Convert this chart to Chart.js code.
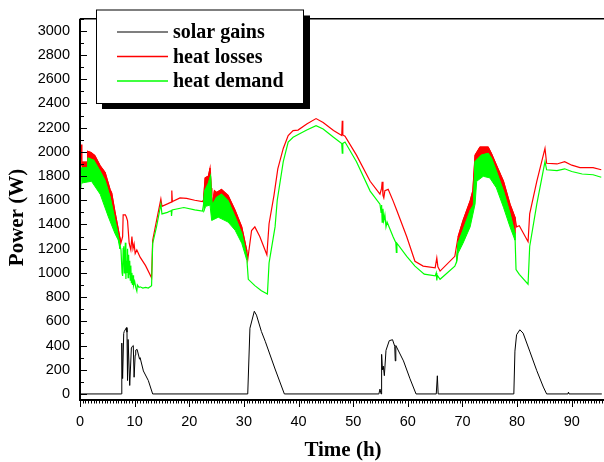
<!DOCTYPE html>
<html><head><meta charset="utf-8">
<script src="https://cdn.jsdelivr.net/npm/chart.js@4.4.1/dist/chart.umd.min.js"></script>
<style>html,body{margin:0;padding:0;background:#fff;}#wrap{width:604px;height:462px;position:relative;}</style>
</head><body><div id="wrap"><canvas id="c" width="604" height="462"></canvas></div>
<script>
// ---------- data ----------
const seriesNames = ['solar gains', 'heat losses', 'heat demand'];
const xTickValues = [0, 10, 20, 30, 40, 50, 60, 70, 80, 90];
const yTickValues = [0, 200, 400, 600, 800, 1000, 1200, 1400, 1600, 1800, 2000, 2200, 2400, 2600, 2800, 3000];
const xMinorStep = 0.5;
const yMinorStep = 100;
const xTitle = 'Time (h)';
const yTitle = 'Power (W)';

// [time h, power W]
const solarGains = [
  [0,0],[7.6,0],[7.65,420],[7.8,127],[8.0,500],[8.1,516],[8.5,548],[8.6,510],[8.7,111],[8.8,450],[9.1,70],[9.4,380],[9.6,394],
  [9.75,400],[9.9,138],[10.1,320],[10.2,362],[10.45,368],[10.9,287],[11.0,300],[11.6,190],[12.5,111],[13.3,0],
  [30.7,0],[31.1,543],[31.9,683],[32.3,651],[33.2,516],[33.9,435],[35.7,206],[37.4,0],
  [54.7,0],[54.9,40],[55.1,0],[55.2,327],[55.35,200],[55.5,230],[55.7,151],[56.0,360],[56.6,440],[57.2,448],[57.6,394],[57.7,273],
  [57.8,400],[59.2,273],[60.4,125],[61.5,0],[65.2,0],[65.4,150],[65.55,0],
  [79.4,0],[79.6,354],[79.9,489],[80.5,530],[81.1,502],[82.3,354],[83.6,192],[84.8,57],[85.4,0],[89.3,0],[89.4,15],[89.5,0],[95.5,0]
];

const heatLosses = [
  [0,1960],[0.2,2060],[0.35,1880],[0.4,1915],[1.35,1915],[1.4,2005],[2.0,1995],[2.7,1970],[3.7,1885],[4.6,1830],[5.5,1690],[5.8,1660],
  [6.4,1505],[6.8,1410],[7.3,1290],[7.5,1250],[7.8,1300],[7.9,1480],[8.3,1480],[8.5,1460],[8.7,1430],[9.0,1245],[9.3,1190],[9.5,1300],
  [9.7,1200],[9.9,1240],[10.1,1160],[10.4,1190],[11.0,1130],[12.0,1060],[13.1,960],[13.3,1270],[14.0,1430],[14.8,1610],[15.0,1550],
  [16.0,1570],[16.7,1585],[16.8,1680],[16.9,1590],[18.3,1620],[19.5,1615],[21.0,1600],[22.4,1590],
  [22.6,1600],[22.9,1785],[23.5,1800],[23.8,1866],[24.0,1700],[24.1,1520],[24.6,1680],[25.0,1665],[25.9,1690],[27.1,1640],[28.4,1515],
  [29.6,1380],[30.5,1190],[30.7,1110],[31.4,1350],[32.0,1380],[32.9,1300],[34.2,1150],[34.6,1406],[35.5,1640],[36.2,1860],[37.2,2028],
  [38.1,2135],[39.0,2176],[39.9,2180],[41.5,2230],[43.2,2275],[44.5,2243],[46.4,2176],[47.9,2135],[48.0,2257],[48.1,2140],[48.5,2130],
  [50.6,1973],[53.1,1757],[54.9,1650],[55.2,1700],[55.3,1752],[55.45,1640],[55.6,1620],[55.8,1680],[56.4,1690],[57.3,1595],[58.0,1514],
  [59.8,1299],[61.3,1096],[62.8,1056],[65.0,1042],[65.3,1123],[65.5,1050],[65.9,1015],[68.6,1137],
  [69.2,1299],[70.1,1433],[71.4,1595],[71.9,1680],[72.3,1973],[73.2,2040],[74.7,2040],[75.3,1987],[76.2,1892],[77.5,1757],[78.7,1568],
  [79.6,1460],[79.9,1380],[80.4,1390],[82.0,1258],[82.3,1487],[83.6,1757],[85.1,2028],[85.4,1906],[87.3,1900],[88.7,1919],[90.0,1890],
  [91.5,1870],[93.9,1870],[95.4,1852]
];

const heatDemand = [
  [0,1790],[0.15,1700],[0.3,1866],[1.4,1870],[1.5,1948],[2.5,1930],[3.7,1838],[4.6,1760],[5.5,1625],[6.4,1433],[6.8,1352],[7.3,1230],
  [7.5,1190],[7.7,1000],[7.8,975],[7.9,1200],[8.0,1220],[8.1,1000],[8.2,1150],[8.3,1250],[8.4,950],[8.5,1100],[8.6,1000],[8.7,1200],
  [8.8,960],[8.9,1150],[9.0,990],[9.1,1100],[9.2,940],[9.3,1060],[9.4,920],[9.5,1000],[9.6,900],[9.7,980],[9.8,895],[10.0,930],
  [10.2,880],[10.4,850],[10.5,900],[10.8,880],[11.0,885],[11.5,875],[12.0,880],[12.5,875],[13.1,895],
  [13.3,1243],[14.0,1380],[14.8,1568],[15.0,1487],[16.0,1500],[16.7,1515],[16.75,1470],[16.85,1520],[19.0,1540],[21.0,1520],[22.4,1510],
  [22.6,1560],[22.8,1676],[23.5,1740],[23.9,1800],[24.0,1650],[24.2,1560],[25.0,1623],[25.9,1650],[27.1,1595],[28.4,1460],[29.6,1325],
  [30.5,1136],[30.8,947],[32.0,895],[33.2,853],[34.3,826],[34.6,1082],[34.8,1137],[35.7,1380],[36.1,1600],[37.2,1919],[38.1,2081],
  [39.0,2121],[40.2,2149],[41.5,2180],[43.2,2216],[44.5,2189],[46.4,2120],[47.9,2068],[48.0,1990],[48.1,2070],[48.5,2081],[50.6,1919],
  [53.1,1676],[54.9,1568],[55.1,1500],[55.2,1560],[55.3,1420],[55.45,1530],[55.6,1433],[55.8,1480],[56.0,1380],[56.2,1420],[57.3,1299],
  [57.8,1250],[57.9,1170],[58.0,1245],[59.8,1137],[61.3,1056],[63.0,990],[65.0,975],[65.2,1000],[65.3,937],[65.4,980],[65.9,947],
  [68.6,1056],[68.9,1090],
  [69.2,1245],[70.1,1352],[71.4,1514],[72.0,1560],[72.3,1919],[73.5,1973],[74.7,1987],[75.3,1946],[76.2,1838],[77.5,1676],[78.7,1487],
  [79.6,1325],[79.8,1028],[80.4,988],[82.0,907],[82.3,1218],[83.6,1568],[85.1,1919],[85.4,1852],[87.3,1845],[88.7,1860],[90.0,1838],
  [91.9,1817],[93.9,1811],[95.4,1790]
];

// lower edges of the dense oscillation bands of heat demand
const demandBand1Low = [[0.3,1740],[0.6,1745],[2.1,1757],[3.7,1650],[5.2,1462],[6.4,1325],[7.0,1271],[7.3,1200]];
const demandBand2Low = [[22.6,1500],[23.0,1550],[23.8,1560],[24.1,1433],[25.3,1460],[27.1,1420],[28.4,1352],[29.6,1245],[30.5,1109]];
const demandBand3Low = [[68.9,1080],[69.2,1164],[70.1,1245],[71.4,1380],[72.3,1568],[72.6,1757],[73.8,1798],[75.0,1785],[76.2,1703],[77.5,1542],[78.7,1380],[79.6,1271]];

// ---------- build ----------
const pts = arr => arr.map(p => ({x: p[0], y: p[1]}));
const within = (arr, a, b) => arr.filter(p => p[0] >= a && p[0] <= b);
function polygon(upper, lower) { return pts(upper).concat(pts(lower.slice().reverse())); }

const RED = '#ff0000', GREEN = '#00ff00', BLACK = '#000000';
const datasets = [];
datasets.push({label: seriesNames[0], data: pts(solarGains), borderColor: BLACK, borderWidth: 1, order: 0});
datasets.push({label: seriesNames[2], data: pts(heatDemand), borderColor: GREEN, borderWidth: 1.2, order: 1});
[demandBand1Low, demandBand2Low, demandBand3Low].forEach((low, i) => {
  const a = low[0][0], b = low[low.length - 1][0];
  const upper = within(heatDemand, a, b);
  datasets.push({label: 'demand band ' + (i + 1), data: polygon(upper, low), borderColor: GREEN, backgroundColor: GREEN,
    borderWidth: 1, fill: 'shape', order: 2});
  const lossUpper = within(heatLosses, a, b);
  datasets.push({label: 'loss band ' + (i + 1), data: polygon(lossUpper, upper), borderColor: RED, backgroundColor: RED,
    borderWidth: 1, fill: 'shape', order: 4});
});
datasets.push({label: seriesNames[1], data: pts(heatLosses), borderColor: RED, borderWidth: 1.2, order: 3});

const frame = {
  id: 'frame',
  afterDraw(chart) {
    const ctx = chart.ctx, a = chart.chartArea, xs = chart.scales.x, ys = chart.scales.y;
    ctx.save();
    ctx.strokeStyle = '#000';
    ctx.lineWidth = 1;
    ctx.beginPath();
    // y ticks (inward)
    for (let v = 0; v <= ys.max; v += yMinorStep) {
      const y = Math.round(ys.getPixelForValue(v)) + 0.5;
      const len = (v % 200 === 0) ? 7 : 4;
      ctx.moveTo(a.left, y); ctx.lineTo(a.left + len, y);
    }
    // x ticks (outward)
    for (let v = 0; v <= xs.max + 1e-9; v += xMinorStep) {
      const x = Math.round(xs.getPixelForValue(v)) + 0.5;
      const major = Math.abs(v / 10 - Math.round(v / 10)) < 1e-6;
      ctx.moveTo(x, a.bottom); ctx.lineTo(x, a.bottom + (major ? 7 : 3.5));
    }
    ctx.stroke();
    // axis lines
    ctx.lineWidth = 2;
    ctx.beginPath();
    ctx.moveTo(a.left, a.top); ctx.lineTo(a.left, a.bottom + 1);
    ctx.moveTo(a.left - 1, a.bottom); ctx.lineTo(a.right, a.bottom);
    ctx.stroke();
    ctx.lineWidth = 1.5;
    ctx.beginPath();
    ctx.moveTo(a.left, a.top); ctx.lineTo(a.right, a.top);
    ctx.stroke();

    // axis titles
    ctx.fillStyle = '#000';
    ctx.font = 'bold 21px "Liberation Serif"';
    ctx.textAlign = 'center'; ctx.textBaseline = 'middle';
    ctx.fillText(xTitle, (a.left + a.right) / 2 + 1, 451);
    ctx.save();
    ctx.translate(17.5, 217.5); ctx.rotate(-Math.PI / 2);
    ctx.fillText(yTitle, 0, 0);
    ctx.restore();

    // legend box with shadow
    const L = 96, T = 9.5, R = 304, B = 103, S = 6;
    ctx.fillStyle = '#000';
    ctx.fillRect(R, T + S, S, B - T);
    ctx.fillRect(L + S, B, R - L, S);
    ctx.fillStyle = '#fff';
    ctx.fillRect(L, T, R - L, B - T);
    ctx.lineWidth = 1; ctx.strokeStyle = '#000';
    ctx.strokeRect(L + 0.5, T + 0.5, R - L - 1, B - T);
    const items = [[seriesNames[0], '#555555'], [seriesNames[1], RED], [seriesNames[2], GREEN]];
    ctx.font = 'bold 20px "Liberation Serif"';
    ctx.textAlign = 'left'; ctx.textBaseline = 'alphabetic';
    items.forEach((it, i) => {
      const y = 32 + i * 24.5;
      ctx.strokeStyle = it[1]; ctx.lineWidth = 1.5;
      ctx.beginPath(); ctx.moveTo(117, y); ctx.lineTo(168, y); ctx.stroke();
      ctx.fillStyle = '#000';
      ctx.fillText(it[0], 173, y + 6);
    });
    ctx.restore();
  }
};

new Chart(document.getElementById('c'), {
  type: 'line',
  data: {datasets},
  options: {
    responsive: false, animation: false, devicePixelRatio: 1,
    layout: {padding: {top: 10, right: 0, left: 0, bottom: 0}},
    elements: {point: {radius: 0, hoverRadius: 0}, line: {tension: 0, fill: false}},
    plugins: {legend: {display: false}, tooltip: {enabled: false}},
    scales: {
      x: {
        type: 'linear', min: 0, max: 95.9,
        grid: {display: false, drawTicks: false}, border: {display: false},
        afterBuildTicks: s => { s.ticks = xTickValues.map(v => ({value: v})); },
        afterFit: s => { s.height = 62; },
        ticks: {autoSkip: false, maxRotation: 0, padding: 13, color: '#000',
          callback: v => String(v),
          font: {family: 'Liberation Sans', size: 14.5}}
      },
      y: {
        type: 'linear', min: -50, max: 3100,
        grid: {display: false, drawTicks: false}, border: {display: false},
        afterBuildTicks: s => { s.ticks = yTickValues.map(v => ({value: v})); },
        afterFit: s => { s.width = 80; },
        ticks: {autoSkip: false, padding: 10, color: '#000',
          callback: v => String(v),
          font: {family: 'Liberation Sans', size: 14.5}}
      }
    }
  },
  plugins: [frame]
});
</script>
</body></html>
